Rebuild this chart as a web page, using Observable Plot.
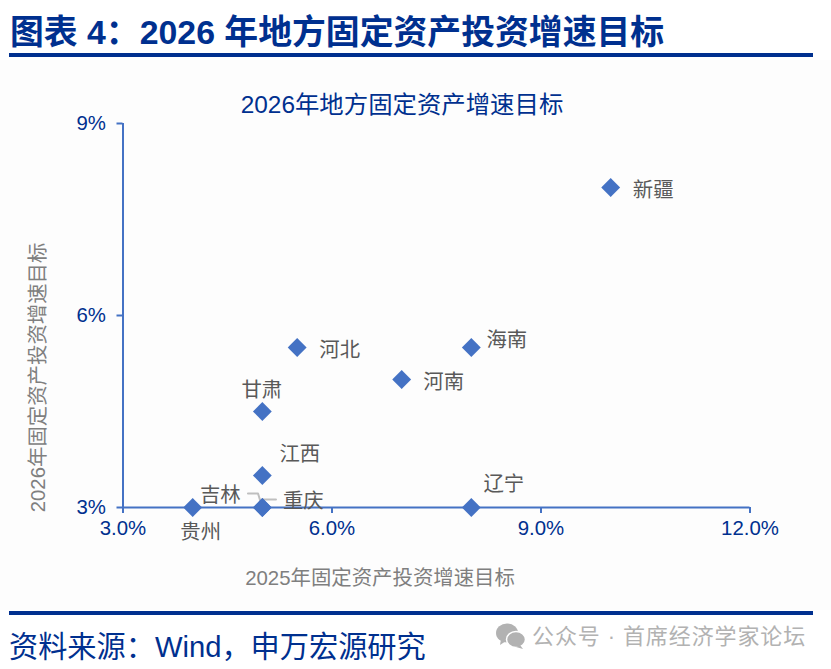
<!DOCTYPE html>
<html lang="zh">
<head>
<meta charset="utf-8">
<script src="https://cdn.jsdelivr.net/npm/d3@7"></script>
<script src="https://cdn.jsdelivr.net/npm/@observablehq/plot@0.6"></script>
<style>
  html,body{margin:0;padding:0;background:#fff;}
  body{width:831px;height:669px;overflow:hidden;position:relative;font-family:"Liberation Sans","Noto Sans CJK SC",sans-serif;}
  #title{position:absolute;left:10px;top:11px;font-size:33.85px;line-height:42px;font-weight:700;color:#00308f;white-space:pre;}
  .rule{position:absolute;left:9px;width:804px;height:4px;background:#00308f;}
  #chart{position:absolute;left:0;top:60px;}
  #source{position:absolute;left:9px;top:627px;font-size:29.2px;line-height:40px;color:#00308f;white-space:pre;}
  #mark{position:absolute;left:532px;top:622px;font-size:22px;line-height:30px;color:#b2b2b2;white-space:pre;letter-spacing:.9px;}
  #wx{position:absolute;left:495px;top:622px;}
</style>
</head>
<body>
<div id="title">图表 4：2026 年地方固定资产投资增速目标</div>
<div class="rule" style="top:53px"></div>
<div id="chart"></div>
<div class="rule" style="top:611px"></div>
<div id="source">资料来源：Wind，申万宏源研究</div>
<svg id="wx" width="32" height="28" viewBox="0 0 32 28">
  <ellipse cx="12" cy="11" rx="11" ry="9.5" fill="#b2b2b2"/><path d="M6 17l-1 6 6-4z" fill="#b2b2b2"/>
  <ellipse cx="21" cy="17.500" rx="9.500" ry="8" fill="#b2b2b2" stroke="#fff" stroke-width="1.500"/><path d="M25 23l3 4-7-2z" fill="#b2b2b2"/>
</svg>
<div id="mark">公众号 · 首席经济学家论坛</div>
<script>
const provinces = ["新疆","河北","海南","河南","甘肃","江西","重庆","吉林","贵州","辽宁"];
const target2025 = [10, 5.5, 8, 7, 5, 5, 5, 5, 4, 8];
const target2026 = [8, 5.5, 5.5, 5, 4.5, 3.5, 3, 3, 3, 3];
const xTicks = [3, 6, 9, 12];
const yTicks = [3, 6, 9];
const chartTitle = "2026年地方固定资产增速目标";
const xTitle = "2025年固定资产投资增速目标";
const yTitle = "2026年固定资产投资增速目标";

// label placement, in pixels from each point
const labelDx = [42.5, 42.5, 35.5, 42, -0.5, 37.5, 41, -42, 8, 32.5];
const labelDy = [3, 3, -7, 3, -21, -21, -6, -12, 25, -23];

const rows = provinces.map((name, i) => ({name, x: target2025[i], y: target2026[i], dx: labelDx[i], dy: labelDy[i]}));
const leaderJilin = [{x: 4.794, y: 3.218}, {x: 4.938, y: 3.218}, {x: 5, y: 3}];
const leaderChongqing = [{x: 5.196, y: 3.125}, {x: 5, y: 3.125}, {x: 5, y: 3}];

const blue = "#4472c4", navy = "#00308f", grey = "#7f7f7f", dark = "#595959";

const chart = Plot.plot({
  width: 831, height: 550,
  marginTop: 63, marginBottom: 103, marginLeft: 122.5, marginRight: 81.5,
  style: {background: "#fdfdfd", fontFamily: '"Liberation Sans","Noto Sans CJK SC",sans-serif', fontSize: "20.4px", overflow: "visible"},
  x: {domain: [3, 12]},
  y: {domain: [3, 9]},
  marks: [
    Plot.ruleX([3], {stroke: blue, strokeWidth: 2}),
    Plot.ruleY([3], {stroke: blue, strokeWidth: 2}),
    Plot.axisX({ticks: xTicks, tickFormat: d => d.toFixed(1) + "%", label: null, tickSize: 6, tickPadding: 7, stroke: blue, fill: navy, strokeWidth: 2, fontSize: 20.4}),
    Plot.axisY({ticks: yTicks, tickFormat: d => d + "%", label: null, tickSize: 6, tickPadding: 11, stroke: blue, fill: navy, strokeWidth: 2, fontSize: 20.4}),
    Plot.line(leaderJilin, {x: "x", y: "y", stroke: "#bfbfbf", strokeWidth: 2, curve: "linear"}),
    Plot.line(leaderChongqing, {x: "x", y: "y", stroke: "#bfbfbf", strokeWidth: 2, curve: "linear"}),
    Plot.dot(rows, {x: "x", y: "y", symbol: "diamond2", r: 8.5, fill: blue, stroke: "none"}),
    ...rows.map(r => Plot.text([r], {x: "x", y: "y", text: "name", dx: r.dx, dy: r.dy, fill: dark, fontSize: 20.4})),
    Plot.text([chartTitle], {frameAnchor: "top", dx: -34.5, dy: -18, lineAnchor: "middle", fill: navy, fontSize: 24.4}),
    Plot.text([xTitle], {frameAnchor: "bottom", dx: -56.5, dy: 77, fill: grey, fontSize: 20.4}),
    Plot.text([yTitle], {frameAnchor: "left", textAnchor: "middle", rotate: -90, dx: -84.5, dy: 62, fill: grey, fontSize: 20.4})
  ]
});
document.getElementById("chart").append(chart);
</script>
</body>
</html>
